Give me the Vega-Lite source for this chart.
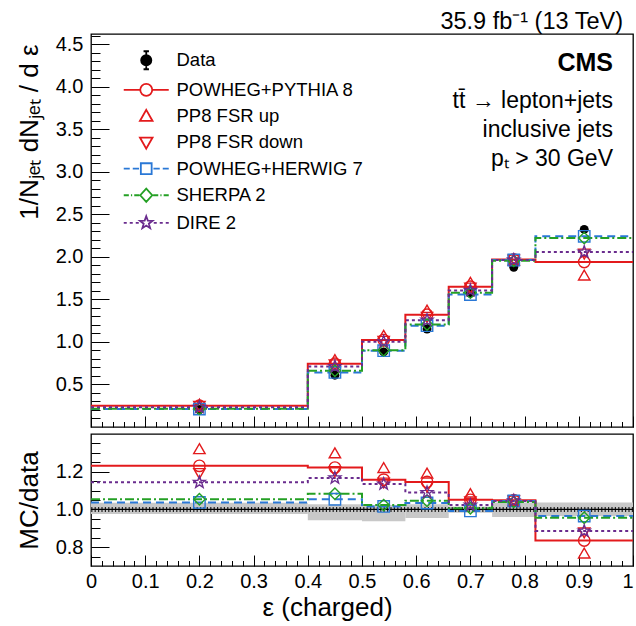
{
  "$schema": "https://vega.github.io/schema/vega-lite/v6.json",
  "background": "white",
  "padding": {"left": 15, "top": 9, "right": 3, "bottom": 4},
  "title": {"text": "35.9 fb⁻¹ (13 TeV)", "anchor": "end", "frame": "group", "font": "Liberation Sans", "fontSize": 23.5, "fontWeight": "normal", "color": "black", "offset": 0, "dx": -10},
  "datasets": {
    "steps": [
      {"m": "PP8", "x": 0, "v": 0.250, "r": 1.231}, {"m": "PP8", "x": 0.4, "v": 0.744, "r": 1.222}, {"m": "PP8", "x": 0.5, "v": 1.022, "r": 1.158}, {"m": "PP8", "x": 0.58, "v": 1.320, "r": 1.146}, {"m": "PP8", "x": 0.66, "v": 1.650, "r": 1.051}, {"m": "PP8", "x": 0.74, "v": 1.970, "r": 1.049}, {"m": "PP8", "x": 0.82, "v": 1.940, "r": 0.835}, {"m": "PP8", "x": 1.0, "v": 1.940, "r": 0.835},
      {"m": "HW7", "x": 0, "v": 0.211, "r": 1.037}, {"m": "HW7", "x": 0.4, "v": 0.642, "r": 1.054}, {"m": "HW7", "x": 0.5, "v": 0.897, "r": 1.016}, {"m": "HW7", "x": 0.58, "v": 1.191, "r": 1.034}, {"m": "HW7", "x": 0.66, "v": 1.557, "r": 0.992}, {"m": "HW7", "x": 0.74, "v": 1.963, "r": 1.045}, {"m": "HW7", "x": 0.82, "v": 2.242, "r": 0.965}, {"m": "HW7", "x": 1.0, "v": 2.242, "r": 0.965},
      {"m": "SH2", "x": 0, "v": 0.214, "r": 1.054}, {"m": "SH2", "x": 0.4, "v": 0.661, "r": 1.083}, {"m": "SH2", "x": 0.5, "v": 0.903, "r": 1.023}, {"m": "SH2", "x": 0.58, "v": 1.205, "r": 1.046}, {"m": "SH2", "x": 0.66, "v": 1.579, "r": 1.006}, {"m": "SH2", "x": 0.74, "v": 1.953, "r": 1.040}, {"m": "SH2", "x": 0.82, "v": 2.221, "r": 0.956}, {"m": "SH2", "x": 1.0, "v": 2.221, "r": 0.956},
      {"m": "DIRE", "x": 0, "v": 0.232, "r": 1.144}, {"m": "DIRE", "x": 0.4, "v": 0.711, "r": 1.167}, {"m": "DIRE", "x": 0.5, "v": 1.002, "r": 1.135}, {"m": "DIRE", "x": 0.58, "v": 1.256, "r": 1.090}, {"m": "DIRE", "x": 0.66, "v": 1.606, "r": 1.023}, {"m": "DIRE", "x": 0.74, "v": 1.963, "r": 1.045}, {"m": "DIRE", "x": 0.82, "v": 2.056, "r": 0.885}, {"m": "DIRE", "x": 1.0, "v": 2.056, "r": 0.885}
    ],
    "pts": [
      {"m": "PP8", "x": 0.2, "v": 0.250, "r": 1.231}, {"m": "PP8", "x": 0.45, "v": 0.744, "r": 1.222}, {"m": "PP8", "x": 0.54, "v": 1.022, "r": 1.158}, {"m": "PP8", "x": 0.62, "v": 1.320, "r": 1.146}, {"m": "PP8", "x": 0.70, "v": 1.650, "r": 1.051}, {"m": "PP8", "x": 0.78, "v": 1.970, "r": 1.049}, {"m": "PP8", "x": 0.91, "v": 1.940, "r": 0.835},
      {"m": "FSRup", "x": 0.2, "v": 0.268, "r": 1.322}, {"m": "FSRup", "x": 0.45, "v": 0.792, "r": 1.300}, {"m": "FSRup", "x": 0.54, "v": 1.079, "r": 1.222}, {"m": "FSRup", "x": 0.62, "v": 1.374, "r": 1.193}, {"m": "FSRup", "x": 0.70, "v": 1.702, "r": 1.084}, {"m": "FSRup", "x": 0.78, "v": 1.963, "r": 1.045}, {"m": "FSRup", "x": 0.91, "v": 1.786, "r": 0.769},
      {"m": "FSRdown", "x": 0.2, "v": 0.242, "r": 1.190}, {"m": "FSRdown", "x": 0.45, "v": 0.731, "r": 1.200}, {"m": "FSRdown", "x": 0.54, "v": 1.007, "r": 1.140}, {"m": "FSRdown", "x": 0.62, "v": 1.290, "r": 1.120}, {"m": "FSRdown", "x": 0.70, "v": 1.633, "r": 1.040}, {"m": "FSRdown", "x": 0.78, "v": 1.963, "r": 1.045}, {"m": "FSRdown", "x": 0.91, "v": 2.033, "r": 0.875},
      {"m": "HW7", "x": 0.2, "v": 0.211, "r": 1.037}, {"m": "HW7", "x": 0.45, "v": 0.642, "r": 1.054}, {"m": "HW7", "x": 0.54, "v": 0.897, "r": 1.016}, {"m": "HW7", "x": 0.62, "v": 1.191, "r": 1.034}, {"m": "HW7", "x": 0.70, "v": 1.557, "r": 0.992}, {"m": "HW7", "x": 0.78, "v": 1.963, "r": 1.045}, {"m": "HW7", "x": 0.91, "v": 2.242, "r": 0.965},
      {"m": "SH2", "x": 0.2, "v": 0.214, "r": 1.054}, {"m": "SH2", "x": 0.45, "v": 0.661, "r": 1.083}, {"m": "SH2", "x": 0.54, "v": 0.903, "r": 1.023}, {"m": "SH2", "x": 0.62, "v": 1.205, "r": 1.046}, {"m": "SH2", "x": 0.70, "v": 1.579, "r": 1.006}, {"m": "SH2", "x": 0.78, "v": 1.953, "r": 1.040}, {"m": "SH2", "x": 0.91, "v": 2.221, "r": 0.956},
      {"m": "DIRE", "x": 0.2, "v": 0.232, "r": 1.144}, {"m": "DIRE", "x": 0.45, "v": 0.711, "r": 1.167}, {"m": "DIRE", "x": 0.54, "v": 1.002, "r": 1.135}, {"m": "DIRE", "x": 0.62, "v": 1.256, "r": 1.090}, {"m": "DIRE", "x": 0.70, "v": 1.606, "r": 1.023}, {"m": "DIRE", "x": 0.78, "v": 1.963, "r": 1.045}, {"m": "DIRE", "x": 0.91, "v": 2.056, "r": 0.885}
    ],
    "dat": [
      {"x": 0.2, "v": 0.203, "lo": 0.198, "hi": 0.208},
      {"x": 0.45, "v": 0.609, "lo": 0.600, "hi": 0.618},
      {"x": 0.54, "v": 0.883, "lo": 0.872, "hi": 0.894},
      {"x": 0.62, "v": 1.152, "lo": 1.138, "hi": 1.166},
      {"x": 0.70, "v": 1.570, "lo": 1.552, "hi": 1.588},
      {"x": 0.78, "v": 1.878, "lo": 1.850, "hi": 1.906},
      {"x": 0.91, "v": 2.323, "lo": 2.285, "hi": 2.361}
    ],
    "band": [
      {"lo": 0, "hi": 0.4, "blo": 0.976, "bhi": 1.036},
      {"lo": 0.4, "hi": 0.5, "blo": 0.942, "bhi": 1.028},
      {"lo": 0.5, "hi": 0.58, "blo": 0.937, "bhi": 1.023},
      {"lo": 0.58, "hi": 0.66, "blo": 0.954, "bhi": 1.028},
      {"lo": 0.66, "hi": 0.74, "blo": 0.982, "bhi": 1.016},
      {"lo": 0.74, "hi": 0.82, "blo": 0.960, "bhi": 1.037},
      {"lo": 0.82, "hi": 1.0, "blo": 0.965, "bhi": 1.037}
    ],
    "leg": [
      {"label": "Data"}, {"label": "POWHEG+PYTHIA 8"}, {"label": "PP8 FSR up"}, {"label": "PP8 FSR down"}, {"label": "POWHEG+HERWIG 7"}, {"label": "SHERPA 2"}, {"label": "DIRE 2"}
    ]
  },
  "spacing": 4,
  "resolve": {
    "scale": {"color": "independent", "stroke": "independent", "fill": "independent", "shape": "independent", "strokeDash": "independent"},
    "legend": {"shape": "independent", "stroke": "independent", "fill": "independent"}
  },
  "vconcat": [
    {
      "width": 542,
      "height": 393,
      "title": {
        "text": "CMS",
        "subtitle": ["tt̄ → lepton+jets", "inclusive jets", "pₜ > 30 GeV"],
        "anchor": "end", "frame": "group", "orient": "top",
        "offset": -137, "dx": -20,
        "font": "Liberation Sans", "fontSize": 25, "fontWeight": "bold", "color": "black",
        "subtitleFont": "Liberation Sans", "subtitleFontSize": 23, "subtitleColor": "black",
        "subtitleLineHeight": 29, "subtitlePadding": 14
      },
      "resolve": {"axis": {"x": "independent", "y": "independent"}},
      "layer": [
        {
          "data": {"name": "leg"},
          "transform": [{"filter": "false"}],
          "mark": {"type": "point", "filled": false},
          "encoding": {
            "shape": {"field": "label", "type": "nominal",
              "scale": {
                "domain": ["PP8", "FSRup", "FSRdown", "HW7", "SH2", "DIRE", "Data", "POWHEG+PYTHIA 8", "PP8 FSR up", "PP8 FSR down", "POWHEG+HERWIG 7", "SHERPA 2", "DIRE 2"],
                "range": ["circle", "triangle-up", "triangle-down", "square", "diamond",
                  "M0,-1.1L0.265,-0.364L1.046,-0.34L0.428,0.139L0.647,0.89L0,0.45L-0.647,0.89L-0.428,0.139L-1.046,-0.34L-0.265,-0.364Z",
                  "M0,-1.5V-0.85M0,0.85V1.5M-0.45,-1.5H0.45M-0.45,1.5H0.45M-0.85,0A0.85,0.85 0 1,0 0.85,0A0.85,0.85 0 1,0 -0.85,0Z",
                  "M-3.75,0H-1M1,0H3.75M-1,0A1,1 0 1,0 1,0A1,1 0 1,0 -1,0Z",
                  "M0,-1.1L1.05,0.75L-1.05,0.75Z",
                  "M0,1.1L1.05,-0.75L-1.05,-0.75Z",
                  "M-3.75,0H-2.75M-2.25,0H-1.2M-0.9,-0.9H0.9V0.9H-0.9ZM1.2,0H2.25M2.75,0H3.75",
                  "M-3.75,0H-2.9M-2.55,0H-2.35M-2,0H-1.15M0,-1.1L1,0L0,1.1L-1,0ZM1.15,0H2M2.35,0H2.55M2.9,0H3.75",
                  "M-3.75,0H-3.25M-2.75,0H-2.25M-1.75,0H-1.25M0,-1.1L0.265,-0.364L1.046,-0.34L0.428,0.139L0.647,0.89L0,0.45L-0.647,0.89L-0.428,0.139L-1.046,-0.34L-0.265,-0.364ZM1.25,0H1.75M2.25,0H2.75M3.25,0H3.75"
                ]
              },
              "legend": {
                "values": ["Data", "POWHEG+PYTHIA 8", "PP8 FSR up", "PP8 FSR down", "POWHEG+HERWIG 7", "SHERPA 2", "DIRE 2"],
                "orient": "none", "legendX": 46, "legendY": 17,
                "title": null, "padding": 0,
                "symbolSize": 144, "symbolStrokeWidth": 1.8, "symbolOpacity": 1,
                "labelFont": "Liberation Sans", "labelFontSize": 18.5, "labelColor": "black",
                "labelOffset": 21, "rowPadding": 6.6, "labelLimit": 400
              }
            },
            "stroke": {"field": "label", "type": "nominal",
              "scale": {
                "domain": ["PP8", "FSRup", "FSRdown", "HW7", "SH2", "DIRE", "Data", "POWHEG+PYTHIA 8", "PP8 FSR up", "PP8 FSR down", "POWHEG+HERWIG 7", "SHERPA 2", "DIRE 2"],
                "range": ["#e31a1c", "#e31a1c", "#e31a1c", "#2a78d6", "#24a024", "#6a2c8e", "black", "#e31a1c", "#e31a1c", "#e31a1c", "#2a78d6", "#24a024", "#6a2c8e"]
              },
              "legend": {
                "values": ["Data", "POWHEG+PYTHIA 8", "PP8 FSR up", "PP8 FSR down", "POWHEG+HERWIG 7", "SHERPA 2", "DIRE 2"],
                "orient": "none", "legendX": 46, "legendY": 17,
                "title": null, "padding": 0,
                "symbolSize": 144, "symbolStrokeWidth": 1.8, "symbolOpacity": 1,
                "labelFont": "Liberation Sans", "labelFontSize": 18.5, "labelColor": "black",
                "labelOffset": 21, "rowPadding": 6.6, "labelLimit": 400
              }
            },
            "fill": {"field": "label", "type": "nominal",
              "scale": {
                "domain": ["PP8", "FSRup", "FSRdown", "HW7", "SH2", "DIRE", "Data", "POWHEG+PYTHIA 8", "PP8 FSR up", "PP8 FSR down", "POWHEG+HERWIG 7", "SHERPA 2", "DIRE 2"],
                "range": ["transparent", "transparent", "transparent", "transparent", "transparent", "transparent", "black", "transparent", "transparent", "transparent", "transparent", "transparent", "transparent"]
              },
              "legend": {
                "values": ["Data", "POWHEG+PYTHIA 8", "PP8 FSR up", "PP8 FSR down", "POWHEG+HERWIG 7", "SHERPA 2", "DIRE 2"],
                "orient": "none", "legendX": 46, "legendY": 17,
                "title": null, "padding": 0,
                "symbolSize": 144, "symbolStrokeWidth": 1.8, "symbolOpacity": 1,
                "labelFont": "Liberation Sans", "labelFontSize": 18.5, "labelColor": "black",
                "labelOffset": 21, "rowPadding": 6.6, "labelLimit": 400
              }
            }
          }
        },
        {
          "data": {"name": "steps"},
          "mark": {"type": "line", "interpolate": "step-after", "strokeWidth": 2},
          "encoding": {
            "x": {"field": "x", "type": "quantitative",
              "scale": {"domain": [0, 1], "nice": false, "zero": false},
              "axis": {
                "orient": "bottom",
                "values": [0,0.1,0.2,0.3,0.4,0.5,0.6,0.7,0.8,0.9,1.0],
                "labels": false, "title": null, "tickSize": -11
              }
            },
            "y": {"field": "v", "type": "quantitative",
              "scale": {"domain": [0, 4.62], "nice": false, "zero": false},
              "axis": {
                "orient": "left",
                "values": [0.5,1.0,1.5,2.0,2.5,3.0,3.5,4.0,4.5],
                "tickSize": -18, "format": ".1f",
                "labelPadding": 26, "labelOverlap": false, "labelBound": false,
                "title": "1/Nⱼₑₜ dNⱼₑₜ / d ε", "titleAnchor": "end", "titleY": 10, "titlePadding": 12,
                "titleFontSize": 26,
                "minExtent": 37, "maxExtent": 37
              }
            },
            "color": {"field": "m", "type": "nominal",
              "scale": {"domain": ["PP8", "HW7", "SH2", "DIRE"], "range": ["#e31a1c", "#2a78d6", "#24a024", "#6a2c8e"]},
              "legend": null},
            "strokeDash": {"field": "m", "type": "nominal",
              "scale": {"domain": ["PP8", "HW7", "SH2", "DIRE"], "range": [[1, 0], [8, 5], [9, 3, 2, 3], [3, 3]]},
              "legend": null}
          }
        },
        {
          "data": {"name": "dat"},
          "mark": {"type": "rule", "color": "black", "strokeWidth": 1.5},
          "encoding": {
            "x": {"field": "x", "type": "quantitative",
              "axis": {
                "orient": "bottom",
                "values": [0.02,0.04,0.06,0.08,0.12,0.14,0.16,0.18,0.22,0.24,0.26,0.28,0.32,0.34,0.36,0.38,0.42,0.44,0.46,0.48,0.52,0.54,0.56,0.58,0.62,0.64,0.66,0.68,0.72,0.74,0.76,0.78,0.82,0.84,0.86,0.88,0.92,0.94,0.96,0.98],
                "labels": false, "title": null, "tickSize": -5.5
              }
            },
            "y": {"field": "lo", "type": "quantitative",
              "axis": {
                "orient": "left",
                "values": [0.1,0.2,0.3,0.4,0.6,0.7,0.8,0.9,1.1,1.2,1.3,1.4,1.6,1.7,1.8,1.9,2.1,2.2,2.3,2.4,2.6,2.7,2.8,2.9,3.1,3.2,3.3,3.4,3.6,3.7,3.8,3.9,4.1,4.2,4.3,4.4,4.6],
                "labels": false, "title": null, "tickSize": -9
              }
            },
            "y2": {"field": "hi"}
          }
        },
        {
          "data": {"name": "dat"},
          "mark": {"type": "point", "filled": true, "color": "black", "size": 80, "opacity": 1},
          "encoding": {
            "x": {"field": "x", "type": "quantitative", "axis": null},
            "y": {"field": "v", "type": "quantitative", "axis": null}
          }
        },
        {
          "data": {"name": "pts"},
          "mark": {"type": "point", "filled": false, "strokeWidth": 1.4, "size": 130, "opacity": 1},
          "encoding": {
            "x": {"field": "x", "type": "quantitative", "axis": null},
            "y": {"field": "v", "type": "quantitative", "axis": null},
            "stroke": {"field": "m", "type": "nominal",
              "scale": {
                "domain": ["PP8", "FSRup", "FSRdown", "HW7", "SH2", "DIRE", "Data", "POWHEG+PYTHIA 8", "PP8 FSR up", "PP8 FSR down", "POWHEG+HERWIG 7", "SHERPA 2", "DIRE 2"],
                "range": ["#e31a1c", "#e31a1c", "#e31a1c", "#2a78d6", "#24a024", "#6a2c8e", "black", "#e31a1c", "#e31a1c", "#e31a1c", "#2a78d6", "#24a024", "#6a2c8e"]
              }
            },
            "fill": {"field": "m", "type": "nominal",
              "scale": {
                "domain": ["PP8", "FSRup", "FSRdown", "HW7", "SH2", "DIRE", "Data", "POWHEG+PYTHIA 8", "PP8 FSR up", "PP8 FSR down", "POWHEG+HERWIG 7", "SHERPA 2", "DIRE 2"],
                "range": ["transparent", "transparent", "transparent", "transparent", "transparent", "transparent", "black", "transparent", "transparent", "transparent", "transparent", "transparent", "transparent"]
              }
            },
            "shape": {"field": "m", "type": "nominal",
              "scale": {
                "domain": ["PP8", "FSRup", "FSRdown", "HW7", "SH2", "DIRE", "Data", "POWHEG+PYTHIA 8", "PP8 FSR up", "PP8 FSR down", "POWHEG+HERWIG 7", "SHERPA 2", "DIRE 2"],
                "range": ["circle", "triangle-up", "triangle-down", "square", "diamond",
                  "M0,-1.1L0.265,-0.364L1.046,-0.34L0.428,0.139L0.647,0.89L0,0.45L-0.647,0.89L-0.428,0.139L-1.046,-0.34L-0.265,-0.364Z",
                  "M0,-1.5V-0.85M0,0.85V1.5M-0.45,-1.5H0.45M-0.45,1.5H0.45M-0.85,0A0.85,0.85 0 1,0 0.85,0A0.85,0.85 0 1,0 -0.85,0Z",
                  "M-3.75,0H-1M1,0H3.75M-1,0A1,1 0 1,0 1,0A1,1 0 1,0 -1,0Z",
                  "M0,-1.1L1.05,0.75L-1.05,0.75Z",
                  "M0,1.1L1.05,-0.75L-1.05,-0.75Z",
                  "M-3.75,0H-2.75M-2.25,0H-1.2M-0.9,-0.9H0.9V0.9H-0.9ZM1.2,0H2.25M2.75,0H3.75",
                  "M-3.75,0H-2.9M-2.55,0H-2.35M-2,0H-1.15M0,-1.1L1,0L0,1.1L-1,0ZM1.15,0H2M2.35,0H2.55M2.9,0H3.75",
                  "M-3.75,0H-3.25M-2.75,0H-2.25M-1.75,0H-1.25M0,-1.1L0.265,-0.364L1.046,-0.34L0.428,0.139L0.647,0.89L0,0.45L-0.647,0.89L-0.428,0.139L-1.046,-0.34L-0.265,-0.364ZM1.25,0H1.75M2.25,0H2.75M3.25,0H3.75"
                ]
              }
            }
          }
        }
      ]
    },
    {
      "width": 542,
      "height": 132,
      "resolve": {"axis": {"x": "independent", "y": "independent"}},
      "layer": [
        {
          "data": {"name": "band"},
          "mark": {"type": "rect", "color": "#c8c8c8"},
          "encoding": {
            "x": {"field": "lo", "type": "quantitative",
              "scale": {"domain": [0, 1], "nice": false, "zero": false},
              "axis": {
                "orient": "bottom",
                "values": [0,0.1,0.2,0.3,0.4,0.5,0.6,0.7,0.8,0.9,1.0],
                "tickSize": -11, "format": ".1~f",
                "labelAlign": {"condition": {"test": "datum.value > 0.99", "value": "right"}, "value": "center"},
                "labelFlush": false, "labelOverlap": false, "labelBound": false,
                "labelPadding": 16, "labelFontSize": 20,
                "title": "ε (charged)", "titlePadding": 3, "titleFontSize": 26,
                "titleX": 236
              }
            },
            "x2": {"field": "hi"},
            "y": {"field": "blo", "type": "quantitative",
              "scale": {"domain": [0.7, 1.4], "nice": false, "zero": false},
              "axis": {
                "orient": "left",
                "values": [0.8, 1.0, 1.2],
                "tickSize": -18, "format": ".1f",
                "labelPadding": 26, "labelOverlap": false, "labelBound": false,
                "title": "MC/data", "titlePadding": 12, "titleFontSize": 26,
                "minExtent": 37, "maxExtent": 37
              }
            },
            "y2": {"field": "bhi"}
          }
        },
        {
          "data": {"values": [{}]},
          "mark": {"type": "rule", "color": "#222222", "strokeWidth": 5, "strokeDash": [1.2, 2.2]},
          "encoding": {"y": {"datum": 1, "type": "quantitative", "axis": null}}
        },
        {
          "data": {"values": [{}]},
          "mark": {"type": "rule", "color": "black", "strokeWidth": 1.2},
          "encoding": {"y": {"datum": 1, "type": "quantitative", "axis": null}}
        },
        {
          "data": {"name": "steps"},
          "mark": {"type": "line", "interpolate": "step-after", "strokeWidth": 2},
          "encoding": {
            "x": {"field": "x", "type": "quantitative",
              "axis": {
                "orient": "bottom",
                "values": [0.02,0.04,0.06,0.08,0.12,0.14,0.16,0.18,0.22,0.24,0.26,0.28,0.32,0.34,0.36,0.38,0.42,0.44,0.46,0.48,0.52,0.54,0.56,0.58,0.62,0.64,0.66,0.68,0.72,0.74,0.76,0.78,0.82,0.84,0.86,0.88,0.92,0.94,0.96,0.98],
                "labels": false, "title": null, "tickSize": -5.5
              }
            },
            "y": {"field": "r", "type": "quantitative",
              "axis": {
                "orient": "left",
                "values": [0.75,0.85,0.9,0.95,1.05,1.1,1.15,1.25,1.3,1.35],
                "labels": false, "title": null, "tickSize": -9
              }
            },
            "stroke": {"field": "m", "type": "nominal",
              "scale": {"domain": ["PP8", "FSRup", "FSRdown", "HW7", "SH2", "DIRE"], "range": ["#e31a1c", "#e31a1c", "#e31a1c", "#2a78d6", "#24a024", "#6a2c8e"]},
              "legend": null},
            "strokeDash": {"field": "m", "type": "nominal",
              "scale": {"domain": ["PP8", "HW7", "SH2", "DIRE"], "range": [[1, 0], [8, 5], [9, 3, 2, 3], [3, 3]]},
              "legend": null}
          }
        },
        {
          "data": {"name": "pts"},
          "mark": {"type": "point", "filled": false, "strokeWidth": 1.4, "size": 130, "opacity": 1},
          "encoding": {
            "x": {"field": "x", "type": "quantitative", "axis": null},
            "y": {"field": "r", "type": "quantitative", "axis": null},
            "stroke": {"field": "m", "type": "nominal",
              "scale": {"domain": ["PP8", "FSRup", "FSRdown", "HW7", "SH2", "DIRE"], "range": ["#e31a1c", "#e31a1c", "#e31a1c", "#2a78d6", "#24a024", "#6a2c8e"]},
              "legend": null},
            "shape": {"field": "m", "type": "nominal",
              "scale": {"domain": ["PP8", "FSRup", "FSRdown", "HW7", "SH2", "DIRE"],
                "range": ["circle", "triangle-up", "triangle-down", "square", "diamond",
                  "M0,-1.1L0.265,-0.364L1.046,-0.34L0.428,0.139L0.647,0.89L0,0.45L-0.647,0.89L-0.428,0.139L-1.046,-0.34L-0.265,-0.364Z"]},
              "legend": null}
          }
        }
      ]
    }
  ],
  "config": {
    "font": "Liberation Sans",
    "view": {"stroke": "black", "strokeWidth": 1.3},
    "axis": {
      "domain": false, "grid": false,
      "tickColor": "black", "tickWidth": 1,
      "labelColor": "black", "titleColor": "black",
      "labelFont": "Liberation Sans", "titleFont": "Liberation Sans",
      "labelFontSize": 20, "titleFontSize": 22, "titleFontWeight": "normal"
    }
  }
}
